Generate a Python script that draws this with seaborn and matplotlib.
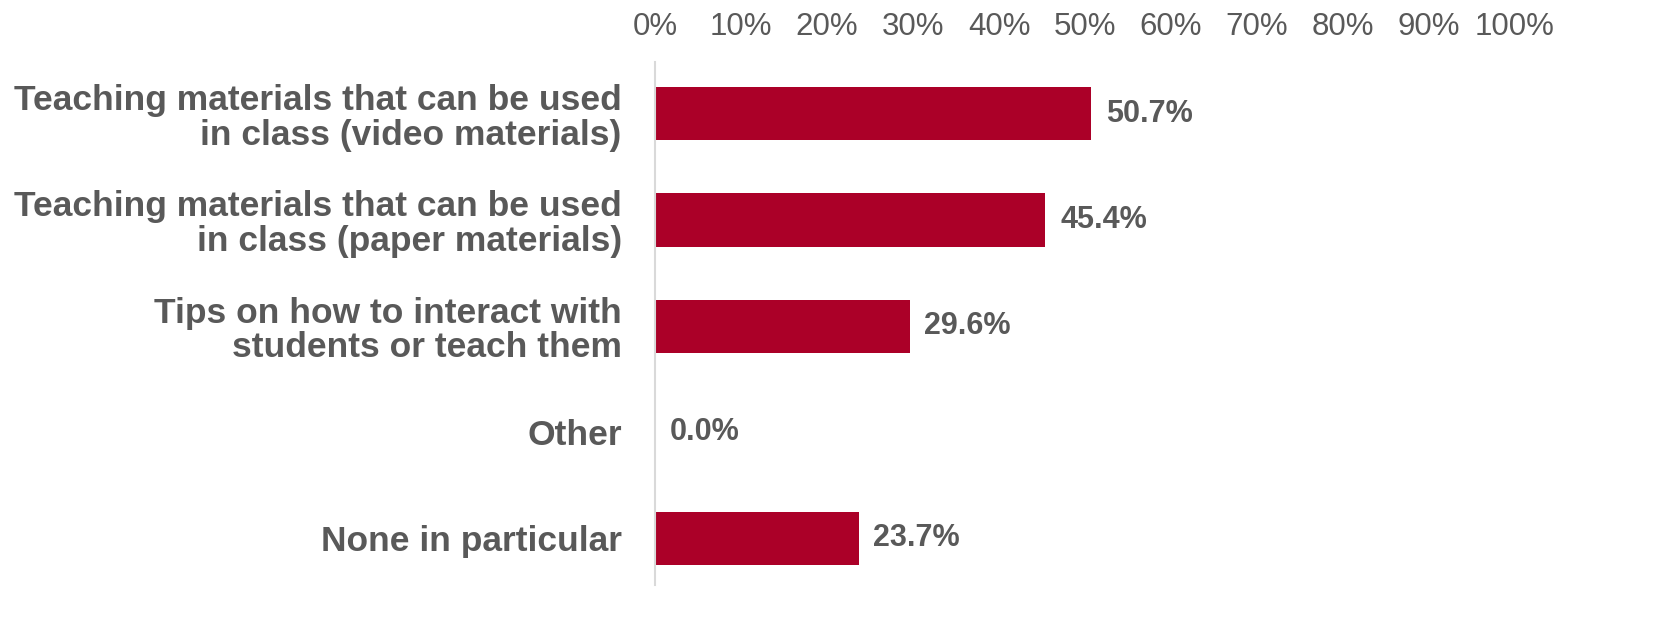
import matplotlib
matplotlib.use("Agg")
import matplotlib.pyplot as plt
import seaborn as sns
import pandas as pd

# data
categories = [
    "Teaching materials that can be used\nin class (video materials)",
    "Teaching materials that can be used\nin class (paper materials)",
    "Tips on how to interact with\nstudents or teach them",
    "Other",
    "None in particular",
]
values = [50.7, 45.4, 29.6, 0.0, 23.7]
ticks = [0, 10, 20, 30, 40, 50, 60, 70, 80, 90, 100]

df = pd.DataFrame({"cat": categories, "val": values})

sns.set_style("white")
plt.rcParams["font.family"] = ["Liberation Sans", "DejaVu Sans"]

gray = "#595959"
red = "#AB0028"

fig = plt.figure(figsize=(16.57, 6.19), dpi=100)
ax = fig.add_axes([0.3953, 0.055, 0.5190, 0.845])

sns.barplot(data=df, x="val", y="cat", color=red, width=0.5, ax=ax,
            saturation=1, edgecolor="none")

ax.set_xlim(0, 100)
ax.set_ylim(4.44, -0.49)
ax.set_xticks(ticks)
ax.set_xticklabels([f"{t}%" for t in ticks], fontsize=22.5, color=gray)
ax.xaxis.tick_top()
ax.tick_params(axis="x", length=0, pad=14)
ax.tick_params(axis="y", length=0, pad=24)
ax.set_yticks(range(len(categories)))
ax.set_yticklabels(categories, fontsize=25.5, fontweight="bold", color=gray,
                   linespacing=1.05)
ax.set_xlabel("")
ax.set_ylabel("")

for s in ["top", "right", "bottom"]:
    ax.spines[s].set_visible(False)
ax.spines["left"].set_color("#D9D9D9")
ax.spines["left"].set_linewidth(1.5)

for i, v in enumerate(values):
    ax.text(v + 1.7, i, f"{v:.1f}%", va="center", ha="left",
            fontsize=22, fontweight="bold", color=gray)

fig.savefig("out.png", dpi=100)
